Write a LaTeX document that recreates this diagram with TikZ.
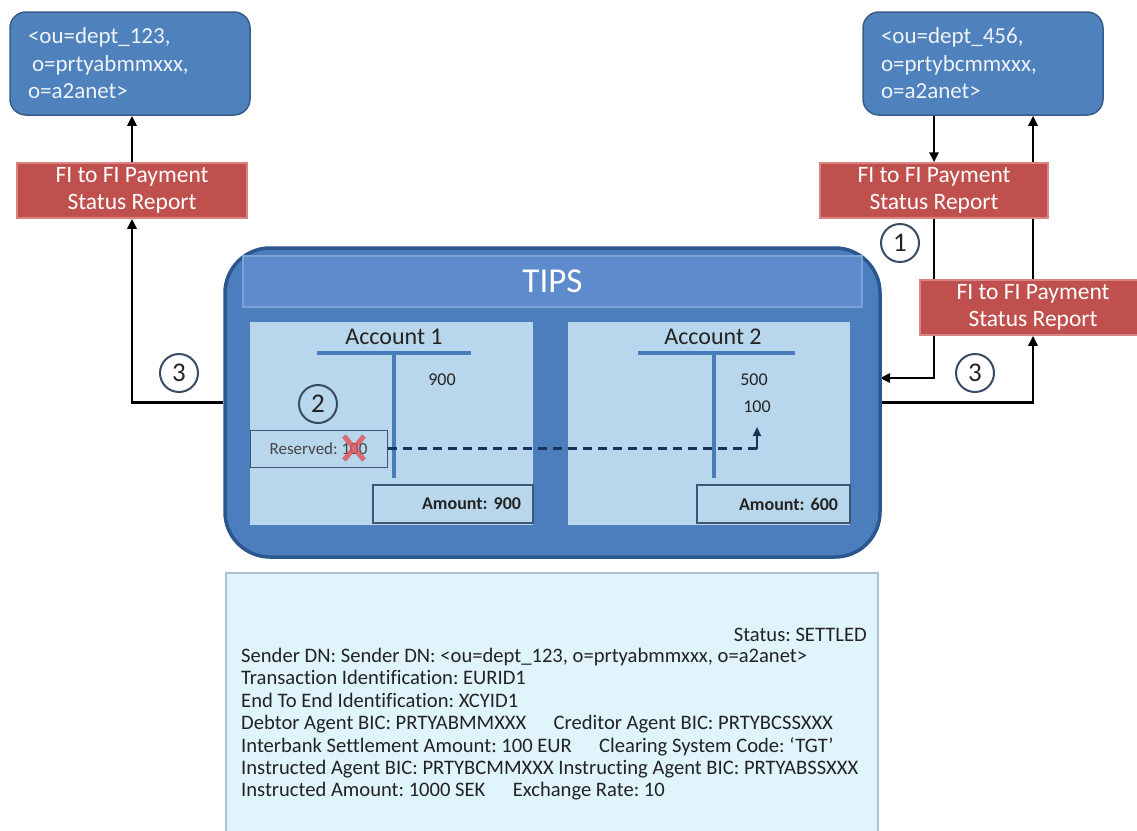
\documentclass[tikz,border=0pt]{standalone}
\usepackage{fontspec}
\setmainfont{Carlito}[Ligatures={NoCommon}]
\usetikzlibrary{arrows.meta, positioning, calc, backgrounds}
\frenchspacing

\definecolor{dnblue}{RGB}{79,129,189}
\definecolor{dnedge}{RGB}{56,93,138}
\definecolor{repred}{RGB}{192,80,77}
\definecolor{repedge}{RGB}{218,132,130}
\definecolor{tipsblue}{RGB}{76,126,190}
\definecolor{tipsedge}{RGB}{44,86,142}
\definecolor{headblue}{RGB}{93,139,203}
\definecolor{headedge}{RGB}{125,162,214}
\definecolor{panelblue}{RGB}{185,215,236}
\definecolor{acctblue}{RGB}{74,124,186}
\definecolor{boxedge}{RGB}{62,86,112}
\definecolor{infofill}{RGB}{223,244,251}
\definecolor{infoedge}{RGB}{172,192,208}
\definecolor{darktext}{RGB}{35,35,35}
\definecolor{dashblue}{RGB}{25,50,90}
\definecolor{ringgrey}{RGB}{55,75,100}
\definecolor{strikered}{RGB}{225,80,85}

\begin{document}
\begin{tikzpicture}[
        x=1pt, y=-1pt,
        dnbox/.style={rectangle, rounded corners=16pt, draw=dnedge, line width=1.5pt, fill=dnblue, text=white!90!dnblue, align=left, inner xsep=18pt, minimum height=103pt, font=\fontsize{23}{27.5}\selectfont},
        reportbox/.style={rectangle, draw=repedge, line width=1.5pt, fill=repred, text=white, align=center, minimum height=55pt, inner sep=0pt, font=\fontsize{23.5}{27}\selectfont},
        tipsbox/.style={rectangle, rounded corners=45pt, draw=tipsedge, line width=3.5pt, fill=tipsblue},
        headbar/.style={rectangle, draw=headedge, line width=1.5pt, fill=headblue, text=white, font=\fontsize{35}{40}\selectfont},
        panel/.style={rectangle, fill=panelblue, minimum height=203pt},
        acctitle/.style={text=darktext, inner sep=0pt, font=\fontsize{24}{28}\selectfont},
        acctline/.style={draw=acctblue, line width=4pt},
        entry/.style={text=darktext, inner sep=0pt, font=\fontsize{18}{20}\selectfont},
        resvbox/.style={rectangle, draw=boxedge, line width=1pt, fill=panelblue, text=darktext!85!white, minimum width=137pt, minimum height=37pt, font=\fontsize{17}{20}\selectfont},
        amountbox/.style={rectangle, draw=boxedge, line width=1.2pt, fill=panelblue, text=darktext, align=right, inner xsep=12pt, minimum height=38pt, font=\bfseries\fontsize{18}{20}\selectfont},
        stepcircle/.style={circle, draw=ringgrey, line width=2pt, minimum size=38pt, inner sep=0pt, text=darktext, font=\fontsize{27}{30}\selectfont},
        infobox/.style={rectangle, draw=infoedge, line width=2pt, fill=infofill},
        infotext/.style={text=darktext, inner sep=0pt, font=\fontsize{20.6}{22.4}\selectfont},
        arrow/.style={-{Triangle[length=10pt, width=9pt]}, line width=2.5pt},
        dashline/.style={draw=dashblue, line width=2.5pt, dash pattern=on 9pt off 6pt},
        uparrow/.style={draw=dashblue, line width=2pt, -{Triangle[length=9pt, width=8pt]}},
        strike/.style={draw=strikered, line width=5pt, opacity=0.8}
        ]
        \useasboundingbox (0,0) rectangle (1137,830);

        % distinguished names
        \node[dnbox, text width=204pt] (dn1) at (130,63.5) {<ou=dept\_123,\\\hspace*{4pt}o=prtyabmmxxx,\\o=a2anet>};
        \node[dnbox, text width=204pt] (dn2) at (983,63.5) {<ou=dept\_456,\\o=prtybcmmxxx,\\o=a2anet>};

        % status reports
        \node[reportbox, minimum width=230pt] (rep1) at (132,190.5) {FI to FI Payment\\Status Report};
        \node[reportbox, minimum width=228pt] (rep2) at (934,190.5) {FI to FI Payment\\Status Report};
        \node[reportbox, minimum width=226pt] (rep3) at (1033,307.5) {FI to FI Payment\\Status Report};

        % TIPS with the two accounts
        \node[tipsbox, minimum width=655pt, minimum height=309pt] (tips) at (552.5,402.5) {};
        \node[headbar, minimum width=619pt, minimum height=51pt] (head) at (552.5,281.5) {TIPS};
        \node[panel, minimum width=283pt] (pan1) at (391.5,423.5) {};
        \node[panel, minimum width=282pt] (pan2) at (709,423.5) {};

        \node[acctitle] (acc1) at (394,337) {Account 1};
        \draw[acctline] (317,353) -- (471,353) (394,353) -- (394,478);
        \node[entry] (e900) at (442,380) {900};
        \node[resvbox] (resv) at (318.5,448.5) {Reserved: 100};
        \node[amountbox, text width=136pt] (amt1) at (453,504) {Amount: 900};

        \node[acctitle] (acc2) at (713,337) {Account 2};
        \draw[acctline] (638,353) -- (795,353) (714,353) -- (714,478);
        \node[entry] (e500) at (754,380) {500};
        \node[entry, below=15pt of e500, xshift=3pt] (e100) {100};
        \node[amountbox, text width=129pt] (amt2) at (773.5,504) {Amount: 600};

        % reservation moved to account 2
        \coordinate (xmark) at (354,448);
        \draw[strike] ($(xmark)+(-10,-12)$) -- ($(xmark)+(10,12)$) ($(xmark)+(-10,12)$) -- ($(xmark)+(10,-12)$);
        \coordinate (uptip) at (757,427);
        \draw[dashline] (resv.east) -- (resv.east -| uptip);
        \draw[uparrow] (resv.east -| uptip) -- (uptip);

        % steps
        \node[stepcircle] (s1) at (900,243) {1};
        \node[stepcircle] (s2) at (318,404) {2};
        \node[stepcircle] (s3a) at (179,373) {3};
        \node[stepcircle] (s3b) at (975,373) {3};

        % message details
        \node[infobox, minimum width=652pt, minimum height=270pt] (info) at (552,708) {};
        \node[infotext, anchor=east] (status) at (867,635) {Status: SETTLED};
        \node[infotext, anchor=north west, align=left] (fields) at (241,648) {Sender DN: Sender DN: <ou=dept\_123, o=prtyabmmxxx, o=a2anet>\\
            Transaction Identification: EURID1\\
            End To End Identification: XCYID1\\
            Debtor Agent BIC: PRTYABMMXXX\hspace{1.1em} Creditor Agent BIC: PRTYBCSSXXX\\
            Interbank Settlement Amount: 100 EUR\hspace{1.1em} Clearing System Code: `TGT'\\
            Instructed Agent BIC: PRTYBCMMXXX Instructing Agent BIC: PRTYABSSXXX\\
            Instructed Amount: 1000 SEK\hspace{1.1em} Exchange Rate: 10};

        % connectors
        \begin{scope}[on background layer]
            \coordinate (tipsin) at (880,378);
            \draw[arrow] (tips.west) -| (rep1.south);
            \draw[arrow] (rep1.north) -- (rep1.north |- dn1.south);
            \draw[arrow] (rep2.north |- dn2.south) -- (rep2.north);
            \draw[arrow] (rep2.south) |- (tipsin);
            \draw[arrow] (tips.east) -| (rep3.south);
            \draw[arrow] (rep3.north) -- (rep3.north |- dn2.south);
        \end{scope}
    \end{tikzpicture}
\end{document}
